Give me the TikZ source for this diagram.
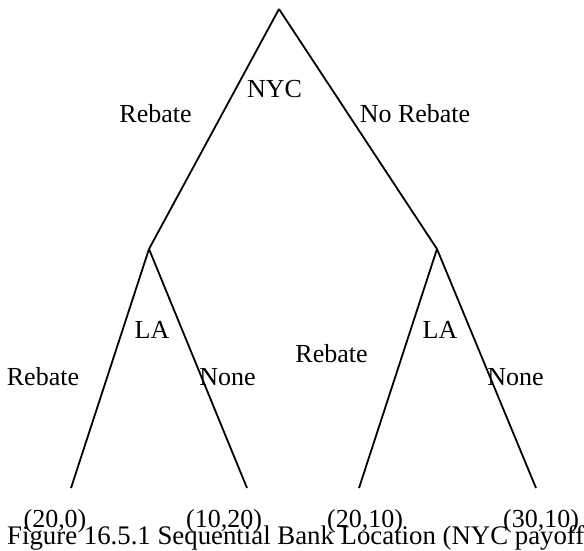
\documentclass[tikz,border=0pt]{standalone}
\usepackage{fontspec}
\setmainfont{Liberation Serif}
\usepackage{tikz}

\begin{document}
\begin{tikzpicture}[x=1pt,y=-1pt]

  \tikzset{vertex/.style = {coordinate}}
  \tikzset{edge/.style = {-,line width=1.8pt}}
  \tikzset{lbl/.style = {anchor=base,inner sep=0pt,font=\fontsize{26}{30}\selectfont}}
  \useasboundingbox (0,0) rectangle (584,550);
  % vertices
  \node[vertex] (nyc) at (279,9)   {};
  \node[vertex] (la1) at (149,249) {};
  \node[vertex] (la2) at (437,249) {};
  \node[vertex] (p1)  at (71,488)  {};
  \node[vertex] (p2)  at (247,488) {};
  \node[vertex] (p3)  at (359,488) {};
  \node[vertex] (p4)  at (536,488) {};
  %edges
  \draw[edge] (nyc) -- (la1);
  \draw[edge] (nyc) -- (la2);
  \draw[edge] (la1) -- (p1);
  \draw[edge] (la1) -- (p2);
  \draw[edge] (la2) -- (p3);
  \draw[edge] (la2) -- (p4);
  % labels
  \node[lbl] (tnyc) at (274.5,97) {NYC};
  \node[lbl] (treb) at (155.5,122) {Rebate};
  \node[lbl] (tnor) at (415,122) {No Rebate};
  \node[lbl] (tla1) at (152,338) {LA};
  \node[lbl] (tla2) at (440,338) {LA};
  \node[lbl] (treb1) at (43,385) {Rebate};
  \node[lbl] (tnon1) at (227.5,385) {None};
  \node[lbl] (treb2) at (331.5,362) {Rebate};
  \node[lbl] (tnon2) at (515.5,385) {None};
  % payoffs
  \node[lbl] (v1) at (55,527)  {(20,0)};
  \node[lbl] (v2) at (224,527) {(10,20)};
  \node[lbl] (v3) at (365,527) {(20,10)};
  \node[lbl] (v4) at (541,527) {(30,10)};
  \node[lbl,anchor=base west,font=\fontsize{26.8}{30}\selectfont] (caption) at (7,544) {Figure 16.5.1 Sequential Bank Location (NYC payoff};
\end{tikzpicture}
\end{document}
